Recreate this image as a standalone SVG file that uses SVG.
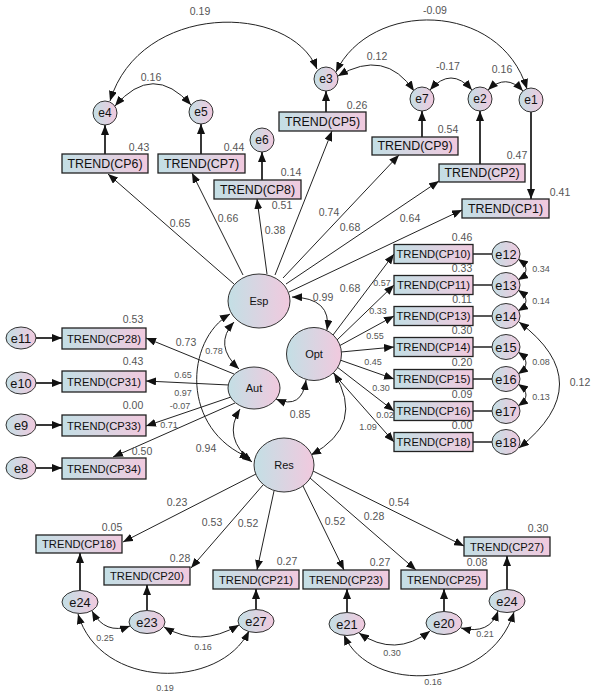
<svg xmlns="http://www.w3.org/2000/svg" width="597" height="698" viewBox="0 0 597 698">
<style>
text{font-family:"Liberation Sans",Arial,sans-serif;text-anchor:middle;dominant-baseline:central}
.bx{fill:url(#g);stroke:#222;stroke-width:1.3}
.el{fill:url(#g);stroke:#333;stroke-width:1}
.t12{font-size:12.4px;fill:#111}
.t11{font-size:11.2px;fill:#111}
.lv{font-size:11px;fill:#111}
.e12{font-size:12px;fill:#111}
.e13{font-size:12.8px;fill:#111}
.n{font-size:10.5px;fill:#555}
.s{font-size:9px;fill:#555}
.a{fill:none;stroke:#222;stroke-width:1;marker-end:url(#ah)}
.A{fill:none;stroke:#222;stroke-width:1.8;marker-end:url(#ah)}
.d{fill:none;stroke:#222;stroke-width:1;marker-start:url(#ah);marker-end:url(#ah)}
.p{fill:none;stroke:#222;stroke-width:1.6}
</style>
<defs>
<linearGradient id="g" x1="0" y1="0" x2="1" y2="0">
<stop offset="0" stop-color="#c3dfe5"/>
<stop offset="1" stop-color="#f1c9de"/>
</linearGradient>
<marker id="ah" viewBox="0 0 10 8" refX="10" refY="4" markerWidth="10" markerHeight="8" markerUnits="userSpaceOnUse" orient="auto-start-reverse">
<path d="M0,0 L10,4 L0,8 z" fill="#111"/>
</marker>
</defs>
<rect width="597" height="698" fill="#fff"/>

<g id="connectors">
<!-- top: indicator to error -->
<path class="A" d="M105 154 V125"/>
<path class="A" d="M201 154 V124"/>
<path class="A" d="M262 180 V152"/>
<path class="A" d="M326 112 V91"/>
<path class="A" d="M422 137 V111"/>
<path class="A" d="M480 164 V111"/>
<path class="A" d="M531 112 V199"/>
<!-- top covariances -->
<path class="d" d="M110 101 C140 2 290 2 317 69"/>
<path class="d" d="M115 106 Q153 62 191 105"/>
<path class="d" d="M336 72 C370 0 500 0 527 89"/>
<path class="d" d="M338 76 Q385 48 414 91"/>
<path class="d" d="M430 90 Q451 66 472 90"/>
<path class="d" d="M488 90 Q506 73 523 91"/>
<!-- Esp loadings -->
<path class="a" d="M234 284 L108 174"/>
<path class="a" d="M243 275 L192 173"/>
<path class="a" d="M267 274 L257 199"/>
<path class="a" d="M275 275 L332 131"/>
<path class="a" d="M283 278 L399 155"/>
<path class="a" d="M286 284 L439 181"/>
<path class="a" d="M289 292 L462 210"/>
<!-- latent covariances -->
<path class="d" d="M292 297 Q332 298 327 330"/>
<path class="d" d="M234 322 Q213 345 239 369"/>
<path class="d" d="M230 314 C185 340 180 430 250 458"/>
<path class="d" d="M276 399 Q302 410 306 380"/>
<path class="d" d="M240 409 Q222 438 252 462"/>
<path class="d" d="M334 373 Q366 425 311 455"/>
<!-- left: error to indicator -->
<path class="A" d="M36 338 H62"/>
<path class="A" d="M36 383 H62"/>
<path class="A" d="M36 425 H62"/>
<path class="A" d="M36 468 H62"/>
<!-- Aut loadings -->
<path class="a" d="M234 374 L146 338"/>
<path class="a" d="M229 385 L146 381"/>
<path class="a" d="M231 397 L146 426"/>
<path class="a" d="M235 403 L113 457"/>
<!-- Opt loadings -->
<path class="a" d="M333 335 L394 254"/>
<path class="a" d="M337 340 L394 285"/>
<path class="a" d="M339 346 L394 316"/>
<path class="a" d="M341 352 L394 347"/>
<path class="a" d="M340 360 L394 379"/>
<path class="a" d="M337 367 L394 411"/>
<path class="a" d="M333 373 L394 442"/>
<!-- right box to error lines -->
<path class="p" d="M473 254 H492 M473 285 H492 M473 316 H492 M473 347 H492 M473 379 H492 M473 411 H492 M473 442 H492"/>
<!-- right covariances -->
<path class="d" d="M518 259 Q534 270 518 280"/>
<path class="d" d="M518 290 Q534 301 518 311"/>
<path class="d" d="M518 352 Q534 363 518 374"/>
<path class="d" d="M518 384 Q534 395 518 406"/>
<path class="d" d="M519 322 Q600 383 519 448"/>
<!-- Res loadings -->
<path class="a" d="M256 474 L123 542"/>
<path class="a" d="M263 485 L191 568"/>
<path class="a" d="M274 491 L257 570"/>
<path class="a" d="M303 486 L344 570"/>
<path class="a" d="M310 478 L416 570"/>
<path class="a" d="M313 471 L464 546"/>
<!-- bottom: error to indicator -->
<path class="A" d="M80 590 V553"/>
<path class="A" d="M147 610 V585"/>
<path class="A" d="M256 609 V589"/>
<path class="A" d="M347 612 V589"/>
<path class="A" d="M444 611 V589"/>
<path class="A" d="M507 589 V556"/>
<!-- bottom covariances -->
<path class="d" d="M92 611 Q105 635 130 626"/>
<path class="d" d="M164 627 Q200 648 239 625"/>
<path class="d" d="M78 614 C100 690 220 690 249 631"/>
<path class="d" d="M359 633 Q395 658 430 631"/>
<path class="d" d="M461 628 Q490 635 498 611"/>
<path class="d" d="M344 635 C370 695 490 690 514 612"/>
</g>

<g id="connector-labels">
<text class="n" x="200" y="11">0.19</text>
<text class="n" x="151" y="77">0.16</text>
<text class="n" x="435" y="10">-0.09</text>
<text class="n" x="377" y="56">0.12</text>
<text class="n" x="448" y="66">-0.17</text>
<text class="n" x="502" y="69">0.16</text>
<text class="n" x="180" y="223">0.65</text>
<text class="n" x="228" y="218">0.66</text>
<text class="n" x="275" y="230">0.38</text>
<text class="n" x="282" y="205">0.51</text>
<text class="n" x="329" y="212">0.74</text>
<text class="n" x="350" y="227">0.68</text>
<text class="n" x="410" y="218">0.64</text>
<text class="n" x="323" y="297">0.99</text>
<text class="n" x="186" y="342">0.73</text>
<text class="s" x="214" y="351">0.78</text>
<text class="s" x="183" y="375">0.65</text>
<text class="s" x="183" y="393">0.97</text>
<text class="s" x="180" y="406">-0.07</text>
<text class="s" x="169" y="425">0.71</text>
<text class="n" x="206" y="448">0.94</text>
<text class="n" x="300" y="414">0.85</text>
<text class="n" x="350" y="288">0.68</text>
<text class="s" x="382" y="283">0.57</text>
<text class="s" x="378" y="311">0.33</text>
<text class="s" x="375" y="336">0.55</text>
<text class="s" x="373" y="362">0.45</text>
<text class="s" x="381" y="388">0.30</text>
<text class="s" x="385" y="415">0.02</text>
<text class="s" x="368" y="427">1.09</text>
<text class="s" x="541" y="269">0.34</text>
<text class="s" x="541" y="301">0.14</text>
<text class="s" x="541" y="362">0.08</text>
<text class="s" x="541" y="397">0.13</text>
<text class="n" x="580" y="382">0.12</text>
<text class="n" x="177" y="502">0.23</text>
<text class="n" x="212" y="522">0.53</text>
<text class="n" x="248" y="523">0.52</text>
<text class="n" x="335" y="521">0.52</text>
<text class="n" x="374" y="516">0.28</text>
<text class="n" x="399" y="502">0.54</text>
<text class="s" x="105" y="638">0.25</text>
<text class="s" x="203" y="647">0.16</text>
<text class="s" x="165" y="688">0.19</text>
<text class="s" x="392" y="653">0.30</text>
<text class="s" x="485" y="634">0.21</text>
<text class="s" x="433" y="682">0.16</text>
</g>

<!-- latent variables -->
<g id="Esp"><ellipse class="el" cx="259" cy="301" rx="31" ry="27"/><text class="lv" x="259" y="301">Esp</text></g>
<g id="Opt"><ellipse class="el" cx="314" cy="354" rx="27.5" ry="26.5"/><text class="lv" x="314" y="354">Opt</text></g>
<g id="Aut"><ellipse class="el" cx="254" cy="388" rx="26" ry="21"/><text class="lv" x="254" y="388">Aut</text></g>
<g id="Res"><ellipse class="el" cx="284" cy="465" rx="30" ry="27"/><text class="lv" x="284" y="465">Res</text></g>

<!-- top indicators -->
<g id="CP6"><rect class="bx" x="62" y="154" width="86" height="19"/><text class="t12" x="105" y="163.5">TREND(CP6)</text><text class="n" x="139" y="147">0.43</text></g>
<g id="CP7"><rect class="bx" x="158" y="154" width="87" height="19"/><text class="t12" x="201.5" y="163.5">TREND(CP7)</text><text class="n" x="234" y="147">0.44</text></g>
<g id="CP8"><rect class="bx" x="214" y="180" width="87" height="19"/><text class="t12" x="257.5" y="189.5">TREND(CP8)</text><text class="n" x="291" y="172">0.14</text></g>
<g id="CP5"><rect class="bx" x="279" y="112" width="87" height="19"/><text class="t12" x="322.5" y="121.5">TREND(CP5)</text><text class="n" x="357" y="105">0.26</text></g>
<g id="CP9"><rect class="bx" x="372" y="137" width="86" height="18"/><text class="t12" x="415" y="146">TREND(CP9)</text><text class="n" x="448" y="129">0.54</text></g>
<g id="CP2"><rect class="bx" x="439" y="164" width="86" height="18"/><text class="t12" x="482" y="173">TREND(CP2)</text><text class="n" x="517" y="155">0.47</text></g>
<g id="CP1"><rect class="bx" x="462" y="199" width="87" height="19"/><text class="t12" x="505.5" y="208.5">TREND(CP1)</text><text class="n" x="560" y="192">0.41</text></g>

<!-- top errors -->
<g id="e4"><circle class="el" cx="105" cy="113" r="12"/><text class="e12" x="105" y="113">e4</text></g>
<g id="e5"><circle class="el" cx="201" cy="112" r="12"/><text class="e12" x="201" y="112">e5</text></g>
<g id="e6"><circle class="el" cx="262" cy="140" r="12"/><text class="e12" x="262" y="140">e6</text></g>
<g id="e3"><circle class="el" cx="326" cy="79" r="12"/><text class="e12" x="326" y="79">e3</text></g>
<g id="e7"><circle class="el" cx="422" cy="99" r="12"/><text class="e12" x="422" y="99">e7</text></g>
<g id="e2"><circle class="el" cx="480" cy="99" r="12"/><text class="e12" x="480" y="99">e2</text></g>
<g id="e1"><circle class="el" cx="531" cy="100" r="12"/><text class="e12" x="531" y="100">e1</text></g>

<!-- left indicators -->
<g id="CP28"><rect class="bx" x="62" y="328" width="84" height="21"/><text class="t11" x="104" y="338.5">TREND(CP28)</text><text class="n" x="133" y="319">0.53</text></g>
<g id="CP31"><rect class="bx" x="62" y="371" width="84" height="21"/><text class="t11" x="104" y="381.5">TREND(CP31)</text><text class="n" x="133" y="361">0.43</text></g>
<g id="CP33"><rect class="bx" x="62" y="415" width="84" height="21"/><text class="t11" x="104" y="425.5">TREND(CP33)</text><text class="n" x="133" y="405">0.00</text></g>
<g id="CP34"><rect class="bx" x="62" y="458" width="84" height="21"/><text class="t11" x="104" y="468.5">TREND(CP34)</text><text class="n" x="142" y="451">0.50</text></g>
<g id="e11"><ellipse class="el" cx="21" cy="338" rx="15" ry="11"/><text class="e13" x="21" y="338">e11</text></g>
<g id="e10"><ellipse class="el" cx="21" cy="383" rx="15" ry="11"/><text class="e13" x="21" y="383">e10</text></g>
<g id="e9"><ellipse class="el" cx="21" cy="425" rx="15" ry="11"/><text class="e13" x="21" y="425">e9</text></g>
<g id="e8"><ellipse class="el" cx="21" cy="468" rx="15" ry="11"/><text class="e13" x="21" y="468">e8</text></g>

<!-- right indicators -->
<g id="CP10"><rect class="bx" x="394" y="244.5" width="79" height="19"/><text class="t11" x="433.5" y="254">TREND(CP10)</text><text class="n" x="462" y="236.5">0.46</text></g>
<g id="CP11"><rect class="bx" x="394" y="275.5" width="79" height="19"/><text class="t11" x="433.5" y="285">TREND(CP11)</text><text class="n" x="462" y="267.5">0.33</text></g>
<g id="CP13"><rect class="bx" x="394" y="306.5" width="79" height="19"/><text class="t11" x="433.5" y="316">TREND(CP13)</text><text class="n" x="462" y="298.5">0.11</text></g>
<g id="CP14"><rect class="bx" x="394" y="337.5" width="79" height="19"/><text class="t11" x="433.5" y="347">TREND(CP14)</text><text class="n" x="462" y="329.5">0.30</text></g>
<g id="CP15"><rect class="bx" x="394" y="369.5" width="79" height="19"/><text class="t11" x="433.5" y="379">TREND(CP15)</text><text class="n" x="462" y="361.5">0.20</text></g>
<g id="CP16"><rect class="bx" x="394" y="401.5" width="79" height="19"/><text class="t11" x="433.5" y="411">TREND(CP16)</text><text class="n" x="462" y="393.5">0.09</text></g>
<g id="CP18r"><rect class="bx" x="394" y="432.5" width="79" height="19"/><text class="t11" x="433.5" y="442">TREND(CP18)</text><text class="n" x="462" y="424.5">0.00</text></g>
<g id="e12"><ellipse class="el" cx="506" cy="254" rx="14" ry="12.5"/><text class="e13" x="506" y="254">e12</text></g>
<g id="e13"><ellipse class="el" cx="506" cy="285" rx="14" ry="12.5"/><text class="e13" x="506" y="285">e13</text></g>
<g id="e14"><ellipse class="el" cx="506" cy="316" rx="14" ry="12.5"/><text class="e13" x="506" y="316">e14</text></g>
<g id="e15"><ellipse class="el" cx="506" cy="347" rx="14" ry="12.5"/><text class="e13" x="506" y="347">e15</text></g>
<g id="e16"><ellipse class="el" cx="506" cy="379" rx="14" ry="12.5"/><text class="e13" x="506" y="379">e16</text></g>
<g id="e17"><ellipse class="el" cx="506" cy="411" rx="14" ry="12.5"/><text class="e13" x="506" y="411">e17</text></g>
<g id="e18"><ellipse class="el" cx="506" cy="442" rx="14" ry="12.5"/><text class="e13" x="506" y="442">e18</text></g>

<!-- bottom indicators -->
<g id="CP18b"><rect class="bx" x="36" y="535" width="86" height="18"/><text class="t11" x="79" y="544">TREND(CP18)</text><text class="n" x="112" y="527">0.05</text></g>
<g id="CP20"><rect class="bx" x="104" y="567" width="86" height="18"/><text class="t11" x="147" y="576">TREND(CP20)</text><text class="n" x="180" y="558">0.28</text></g>
<g id="CP21"><rect class="bx" x="213" y="570" width="86" height="19"/><text class="t11" x="256" y="579.5">TREND(CP21)</text><text class="n" x="287" y="561">0.27</text></g>
<g id="CP23"><rect class="bx" x="303" y="570" width="86" height="19"/><text class="t11" x="346" y="579.5">TREND(CP23)</text><text class="n" x="380" y="562">0.27</text></g>
<g id="CP25"><rect class="bx" x="401" y="570" width="86" height="19"/><text class="t11" x="444" y="579.5">TREND(CP25)</text><text class="n" x="477" y="562">0.08</text></g>
<g id="CP27"><rect class="bx" x="464" y="537" width="86" height="19"/><text class="t11" x="507" y="546.5">TREND(CP27)</text><text class="n" x="538" y="528">0.30</text></g>
<g id="e24a"><ellipse class="el" cx="80" cy="602" rx="18" ry="11.5"/><text class="e13" x="80" y="602">e24</text></g>
<g id="e23"><ellipse class="el" cx="147" cy="622" rx="18" ry="11.5"/><text class="e13" x="147" y="622">e23</text></g>
<g id="e27"><ellipse class="el" cx="256" cy="621" rx="18" ry="11.5"/><text class="e13" x="256" y="621">e27</text></g>
<g id="e21"><ellipse class="el" cx="347" cy="624" rx="18" ry="11.5"/><text class="e13" x="347" y="624">e21</text></g>
<g id="e20"><ellipse class="el" cx="444" cy="623" rx="18" ry="11.5"/><text class="e13" x="444" y="623">e20</text></g>
<g id="e24b"><ellipse class="el" cx="507" cy="601" rx="18" ry="11.5"/><text class="e13" x="507" y="601">e24</text></g>
</svg>
